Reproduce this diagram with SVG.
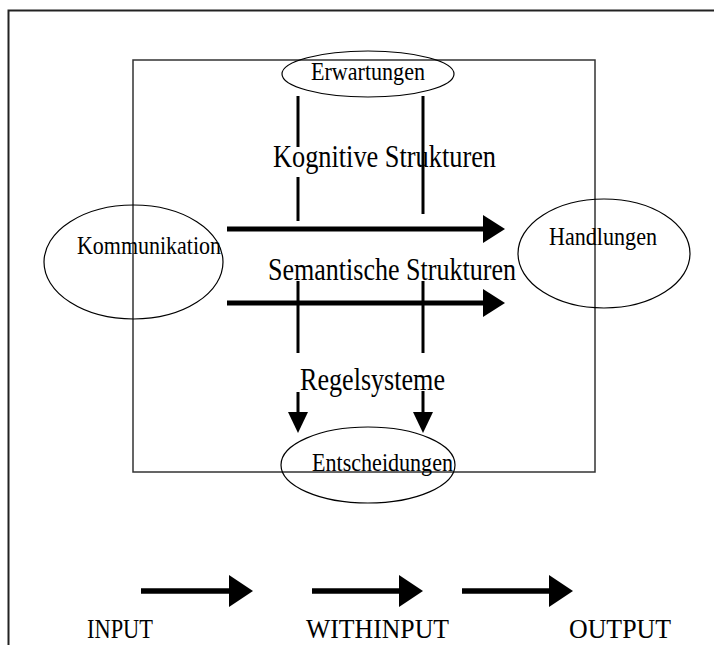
<svg xmlns="http://www.w3.org/2000/svg" width="714" height="645" viewBox="0 0 714 645">
  <style>
    .frame { fill: none; stroke: #222; stroke-width: 2; }
    .box { fill: none; stroke: #333; stroke-width: 1.5; }
    .node { fill: none; stroke: #000; stroke-width: 1.2; }
    .label { font-family: "Liberation Serif", "Times New Roman", serif; fill: #000; }
    .small { font-size: 25px; }
    .big { font-size: 31px; }
    .legend { font-size: 27px; }
    .flow { stroke: #000; stroke-width: 5; fill: none; }
    .tick { stroke: #000; stroke-width: 3; fill: none; }
  </style>
  <defs>
    <marker id="headH" markerUnits="userSpaceOnUse" markerWidth="22" markerHeight="28" refX="0" refY="14" orient="auto">
      <path d="M0,0 L22,14 L0,28 Z" fill="#000"/>
    </marker>
    <marker id="headB" markerUnits="userSpaceOnUse" markerWidth="24" markerHeight="32" refX="0" refY="16" orient="auto">
      <path d="M0,0 L24,16 L0,32 Z" fill="#000"/>
    </marker>
    <marker id="headV" markerUnits="userSpaceOnUse" markerWidth="21" markerHeight="20" refX="0" refY="10" orient="auto">
      <path d="M0,0 L21,10 L0,20 Z" fill="#000"/>
    </marker>
  </defs>

  <!-- page frame and system boundary -->
  <rect class="frame" x="8.5" y="10.5" width="720" height="650"/>
  <rect class="box" x="133" y="60" width="462" height="412"/>

  <g id="connectors">
    <!-- flows from communication to actions -->
    <line class="flow" x1="227" y1="229" x2="483" y2="229" marker-end="url(#headH)"/>
    <line class="flow" x1="227" y1="303" x2="483" y2="303" marker-end="url(#headH)"/>
    <!-- links from expectations -->
    <line class="tick" x1="298" y1="96" x2="298" y2="147"/>
    <line class="tick" x1="298" y1="177" x2="298" y2="221"/>
    <line class="tick" x1="423" y1="96" x2="423" y2="214"/>
    <!-- links down to decisions -->
    <line class="tick" x1="298" y1="281" x2="298" y2="353"/>
    <line class="tick" x1="423" y1="281" x2="423" y2="353"/>
    <line class="tick" x1="298" y1="392" x2="298" y2="412" marker-end="url(#headV)"/>
    <line class="tick" x1="423" y1="391" x2="423" y2="412" marker-end="url(#headV)"/>
    <!-- legend arrows -->
    <line class="flow" x1="141" y1="591" x2="229" y2="591" marker-end="url(#headB)" style="stroke-width:5.5"/>
    <line class="flow" x1="312" y1="591" x2="399" y2="591" marker-end="url(#headB)" style="stroke-width:5.5"/>
    <line class="flow" x1="462" y1="591" x2="549" y2="591" marker-end="url(#headB)" style="stroke-width:5.5"/>
  </g>

  <g id="erwartungen">
    <ellipse class="node" cx="368" cy="74" rx="86" ry="23"/>
    <text class="label small" x="311" y="80" textLength="114" lengthAdjust="spacingAndGlyphs">Erwartungen</text>
  </g>

  <g id="kommunikation">
    <ellipse class="node" cx="133.5" cy="262" rx="89.5" ry="57"/>
    <text class="label small" x="77" y="254" textLength="144" lengthAdjust="spacingAndGlyphs">Kommunikation</text>
  </g>

  <g id="handlungen">
    <ellipse class="node" cx="604" cy="253.5" rx="86" ry="54.5"/>
    <text class="label small" x="549" y="245" textLength="108" lengthAdjust="spacingAndGlyphs">Handlungen</text>
  </g>

  <g id="entscheidungen">
    <ellipse class="node" cx="368" cy="465" rx="87" ry="38"/>
    <text class="label small" x="312" y="471" textLength="141" lengthAdjust="spacingAndGlyphs">Entscheidungen</text>
  </g>

  <g id="kognitive-strukturen">
    <text class="label big" x="273" y="167" textLength="223" lengthAdjust="spacingAndGlyphs">Kognitive Strukturen</text>
  </g>

  <g id="semantische-strukturen">
    <text class="label big" x="268" y="280" textLength="248" lengthAdjust="spacingAndGlyphs">Semantische Strukturen</text>
  </g>

  <g id="regelsysteme">
    <text class="label big" x="300" y="390" textLength="145" lengthAdjust="spacingAndGlyphs">Regelsysteme</text>
  </g>

  <g id="legend">
    <text class="label legend" x="87" y="638" textLength="66" lengthAdjust="spacingAndGlyphs">INPUT</text>
    <text class="label legend" x="306" y="638" textLength="143" lengthAdjust="spacingAndGlyphs">WITHINPUT</text>
    <text class="label legend" x="569" y="638" textLength="102" lengthAdjust="spacingAndGlyphs">OUTPUT</text>
  </g>
</svg>
